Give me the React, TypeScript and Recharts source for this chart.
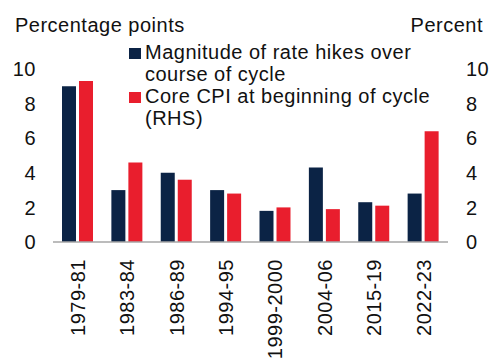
import React from "react";
import { BarChart, Bar, XAxis, YAxis } from "recharts";

const cycles = [
  "1979-81",
  "1983-84",
  "1986-89",
  "1994-95",
  "1999-2000",
  "2004-06",
  "2015-19",
  "2022-23",
];
const rateHikes = [9.0, 3.0, 4.0, 3.0, 1.8, 4.3, 2.3, 2.8];
const coreCpi = [9.3, 4.6, 3.6, 2.8, 2.0, 1.9, 2.1, 6.4];
const yTicks = [0, 2, 4, 6, 8, 10];

const NAVY = "#0B2345";
const RED = "#E91E2D";
const FONT = "'Liberation Sans', Arial, sans-serif";
const TEXT = "#111";
const FS = 20;
const LS = 0.5;

const data = cycles.map((c, i) => ({
  cycle: c,
  hikes: rateHikes[i],
  cpi: coreCpi[i],
}));

// rotated category labels, reading bottom to top
const CycleTick = (props: any) => {
  const { x, y, payload } = props;
  return (
    <g transform={`translate(${x},${y})`}>
      <text
        transform="rotate(-90)"
        textAnchor="end"
        dy="0.36em"
        fill={TEXT}
        fontSize={FS}
        fontFamily={FONT}
        letterSpacing={LS}
      >
        {payload.value}
      </text>
    </g>
  );
};

const LegendItem = ({ color, lines }: { color: string; lines: string[] }) => (
  <div style={{ position: "relative", paddingLeft: 16 }}>
    <span
      style={{
        position: "absolute",
        left: 0,
        top: 7,
        width: 12,
        height: 11,
        background: color,
      }}
    />
    {lines.map((l) => (
      <div key={l}>{l}</div>
    ))}
  </div>
);

export default function App() {
  const tickStyle = { fill: TEXT, fontSize: FS, fontFamily: FONT, letterSpacing: LS };
  return (
    <div
      style={{
        position: "absolute",
        left: 0,
        top: 0,
        width: 500,
        height: 358,
        background: "#fff",
        fontFamily: FONT,
        color: TEXT,
        letterSpacing: LS,
      }}
    >
      <BarChart
        width={500}
        height={358}
        data={data}
        margin={{ top: 69, right: 0, bottom: 0, left: 0 }}
        barSize={14}
        barGap={3}
      >
        <XAxis
          dataKey="cycle"
          axisLine={{ stroke: "#A6A6A6", strokeWidth: 1.5 }}
          tickLine={false}
          tickSize={0}
          interval={0}
          height={116}
          tick={(p: any) => <CycleTick {...p} y={p.y + 15} />}
        />
        <YAxis
          yAxisId="left"
          orientation="left"
          width={53}
          domain={[0, 10]}
          ticks={yTicks}
          axisLine={false}
          tickLine={false}
          tickSize={0}
          tickMargin={17}
          tick={tickStyle}
        />
        <YAxis
          yAxisId="right"
          orientation="right"
          width={52}
          domain={[0, 10]}
          ticks={yTicks}
          axisLine={false}
          tickLine={false}
          tickSize={0}
          tickMargin={18}
          tick={{ ...tickStyle, textAnchor: "start" }}
        />
        <Bar yAxisId="left" dataKey="hikes" fill={NAVY} isAnimationActive={false} />
        <Bar yAxisId="right" dataKey="cpi" fill={RED} isAnimationActive={false} />
      </BarChart>

      {/* axis titles */}
      <div style={{ position: "absolute", left: 15, top: 14, fontSize: FS }}>
        Percentage points
      </div>
      <div style={{ position: "absolute", right: 17, top: 14, fontSize: FS }}>
        Percent
      </div>

      {/* legend */}
      <div
        style={{
          position: "absolute",
          left: 129,
          top: 41,
          fontSize: FS,
          lineHeight: "22px",
        }}
      >
        <LegendItem color={NAVY} lines={["Magnitude of rate hikes over", "course of cycle"]} />
        <LegendItem color={RED} lines={["Core CPI at beginning of cycle", "(RHS)"]} />
      </div>
    </div>
  );
}
